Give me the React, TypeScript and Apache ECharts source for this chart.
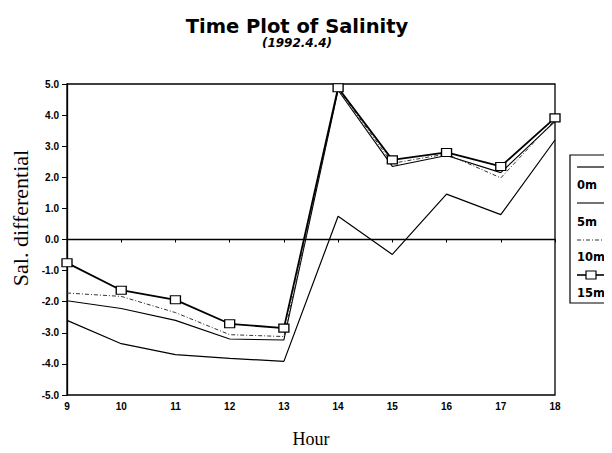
import React, { useEffect, useRef } from "react";
import * as echarts from "echarts";

const hours = [9, 10, 11, 12, 13, 14, 15, 16, 17, 18];
const s0m = [-2.6, -3.35, -3.7, -3.82, -3.92, 0.75, -0.48, 1.46, 0.8, 3.2];
const s5m = [-1.97, -2.22, -2.6, -3.2, -3.23, 4.8, 2.35, 2.7, 2.15, 3.8];
const s10m = [-1.72, -1.83, -2.35, -3.06, -3.12, 4.85, 2.45, 2.75, 1.98, 3.85];
const s15m = [-0.75, -1.63, -1.94, -2.71, -2.85, 4.88, 2.56, 2.8, 2.35, 3.91];
const legendNames = ["0m", "5m", "10m", "15m"];

const SANS = "'Liberation Sans', Arial, sans-serif";
const WIDE = "'DejaVu Sans', sans-serif";
const SERIF = "'Liberation Serif', 'Times New Roman', serif";

function pairs(vals: number[]) {
  return hours.map((h, i) => [h, vals[i]]);
}

export default function App() {
  const ref = useRef<HTMLDivElement>(null);
  useEffect(() => {
    if (!ref.current) return;
    const chart = echarts.init(ref.current, null, { renderer: "svg" });
    const lx = 577;
    const lineLen = 28;
    const legFont = `bold 11.5px ${WIDE}`;
    chart.setOption({
      animation: false,
      backgroundColor: "#ffffff",
      title: {
        text: "Time Plot of Salinity",
        subtext: "(1992.4.4)",
        left: 292,
        textAlign: "center",
        top: 11,
        itemGap: 1,
        textStyle: { fontFamily: WIDE, fontWeight: "bold", fontSize: 19.5, color: "#000" },
        subtextStyle: { fontFamily: WIDE, fontWeight: "bold", fontStyle: "italic", fontSize: 12, color: "#000" },
      },
      grid: {
        left: 67,
        right: 57,
        top: 84,
        bottom: 57,
        show: true,
        borderColor: "#000",
        borderWidth: 1.3,
        backgroundColor: "transparent",
      },
      xAxis: {
        type: "value",
        min: 9,
        max: 18,
        interval: 1,
        name: "Hour",
        nameLocation: "middle",
        nameGap: 35,
        nameTextStyle: { fontFamily: SERIF, fontSize: 18, color: "#000" },
        axisLine: { show: true, lineStyle: { color: "#000", width: 1.3 } },
        axisTick: { show: true, length: 3, lineStyle: { color: "#000" } },
        axisLabel: { fontFamily: SANS, fontWeight: "bold", fontSize: 10, color: "#000", margin: 6 },
        splitLine: { show: false },
      },
      yAxis: {
        type: "value",
        min: -5,
        max: 5,
        interval: 1,
        axisLine: { show: true, lineStyle: { color: "#000", width: 1.3 } },
        axisTick: { show: true, length: 5, lineStyle: { color: "#000" } },
        axisLabel: {
          fontFamily: SANS,
          fontWeight: "bold",
          fontSize: 10,
          color: "#000",
          margin: 8,
          formatter: (v: number) => v.toFixed(1),
        },
        splitLine: { show: false },
      },
      series: [
        {
          name: "0m",
          type: "line",
          data: pairs(s0m),
          symbol: "none",
          lineStyle: { color: "#000", width: 1.2 },
          markLine: {
            silent: true,
            symbol: "none",
            label: { show: false },
            lineStyle: { color: "#000", width: 1, type: "solid" },
            data: [{ yAxis: 0 }],
          },
        },
        {
          name: "5m",
          type: "line",
          data: pairs(s5m),
          symbol: "none",
          lineStyle: { color: "#000", width: 1.1 },
        },
        {
          name: "10m",
          type: "line",
          data: pairs(s10m),
          symbol: "none",
          lineStyle: { color: "#333", width: 1, type: [4, 2, 1, 2] },
        },
        {
          name: "15m",
          type: "line",
          data: pairs(s15m),
          symbol: "rect",
          symbolSize: [10, 8],
          itemStyle: { color: "#fff", borderColor: "#000", borderWidth: 1.2 },
          lineStyle: { color: "#000", width: 1.8 },
        },
      ],
      graphic: [
        {
          type: "text",
          x: 20,
          y: 218,
          rotation: Math.PI / 2,
          style: {
            text: "Sal. differential",
            font: `22px ${SERIF}`,
            fill: "#000",
            align: "center",
            verticalAlign: "middle",
          },
        },
        {
          type: "rect",
          shape: { x: 570, y: 155, width: 40, height: 148 },
          style: { fill: "#fff", stroke: "#000", lineWidth: 1.2 },
        },
        { type: "line", shape: { x1: lx, y1: 167, x2: lx + lineLen, y2: 167 }, style: { stroke: "#000", lineWidth: 1.2 } },
        { type: "text", x: lx, y: 185, style: { text: legendNames[0], font: legFont, fill: "#000", verticalAlign: "middle" } },
        { type: "line", shape: { x1: lx, y1: 203, x2: lx + lineLen, y2: 203 }, style: { stroke: "#000", lineWidth: 1.1 } },
        { type: "text", x: lx, y: 222, style: { text: legendNames[1], font: legFont, fill: "#000", verticalAlign: "middle" } },
        { type: "line", shape: { x1: lx, y1: 240, x2: lx + lineLen, y2: 240 }, style: { stroke: "#333", lineWidth: 1, lineDash: [4, 2, 1, 2] } },
        { type: "text", x: lx, y: 257, style: { text: legendNames[2], font: legFont, fill: "#000", verticalAlign: "middle" } },
        { type: "line", shape: { x1: lx, y1: 275, x2: lx + lineLen, y2: 275 }, style: { stroke: "#000", lineWidth: 1.6 } },
        { type: "rect", shape: { x: lx + 9, y: 271, width: 10, height: 8 }, style: { fill: "#fff", stroke: "#000", lineWidth: 1.2 } },
        { type: "text", x: lx, y: 293, style: { text: legendNames[3], font: legFont, fill: "#000", verticalAlign: "middle" } },
      ],
    });
    return () => chart.dispose();
  }, []);
  return <div ref={ref} style={{ width: 612, height: 453, margin: -8 }} />;
}
